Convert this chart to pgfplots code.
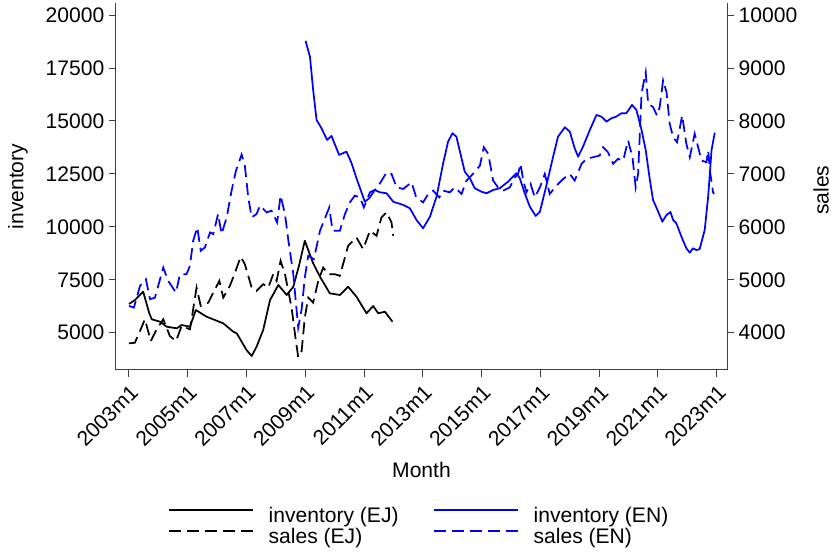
\documentclass[border=0pt]{standalone}
\usepackage{fontspec}
\setmainfont{Liberation Sans}
\usepackage{pgfplots}
\pgfplotsset{compat=1.18}
\usepackage{pgfplotstable}
\definecolor{axisgray}{RGB}{64,64,64}
\definecolor{enblue}{RGB}{0,0,255}

\pgfplotstableread{
m v
0 6356
2.5 6550
5.8 6937
8.3 5916
9.3 5633
12.7 5520
15.4 5283
19.5 5208
21.5 5364
24.9 5283
27.3 6072
31.7 5756
38.5 5444
42.6 5047
44 4972
48 4183
50.1 3899
52.1 4339
54.8 5128
57.6 6545
61 7253
64.4 6781
67.1 7173
69.5 8200
71.8 9346
75.2 8278
78 7645
82 6861
86.1 6781
89.5 7173
92.9 6701
97 5916
99.7 6261
101.8 5916
104.5 5992
107.6 5520
}\invEJ

\pgfplotstableread{
m v
72.1 18780
73.9 18038
75.2 16465
76.6 15048
78.6 14656
80.9 14103
82.7 14292
85.8 13395
88.8 13550
90.9 13003
92.9 12294
96.3 11188
98.1 11349
100.4 11741
102.4 11633
105.2 11585
107.9 11188
112 11033
114.7 10877
117.4 10324
120.1 9932
122.9 10480
125.6 11425
128.3 13003
130.3 14023
132.1 14420
133.7 14259
135.8 13239
137.1 12606
139.2 12294
141.2 11821
143.9 11661
146 11585
148.7 11741
151.4 11821
154.8 12133
158.2 12530
159.6 12294
161.6 11585
163.7 10952
166.1 10513
167.8 10716
170.5 11977
173.2 13314
175.2 14259
178 14703
180 14495
182 13711
183.4 13314
185.4 13787
188.2 14576
190.9 15284
192.9 15204
195 14968
197 15128
199 15204
201.1 15364
203.1 15364
205.4 15757
207.2 15520
209.3 14576
211 13631
212.7 12214
214 11269
216.1 10716
217.8 10244
219.5 10560
221.1 10702
222.2 10324
223.5 10168
225.6 9535
227.6 8987
229 8779
230.3 8987
231.7 8907
233 8940
235.1 9851
236.5 11425
237.9 13631
239.2 14448
}\invEN

\pgfplotstableread{
m v
0 3799
2.4 3811
4.5 4032
6.5 4254
8.9 3843
11.3 4064
14 4254
16.7 3937
19.2 3843
21.5 4127
24.9 4064
27.6 4852
29.3 4506
32.4 4568
34.4 4758
36.9 4979
38.5 4663
41.2 4885
43.3 5136
45.6 5434
47.3 5296
50.1 4852
52.1 4790
54.8 4917
56.9 4852
58.9 5106
60.3 4979
61.9 5358
63.7 5106
66.4 4473
67.8 3970
69.1 3540
70.5 3653
71.8 4284
73.2 4663
75.2 4568
77.3 4979
79.3 5231
81.4 5106
84.1 5106
86.1 5074
89.5 5642
92.9 5799
95.6 5580
98.4 5926
101.1 5831
103.1 6178
105.2 6273
107.2 6083
107.9 5831
}\salEJ

\pgfplotstableread{
m v
0 4506
2 4474
4.5 4885
6.9 5011
8.6 4633
10.6 4663
14 5231
16 4979
19.2 4758
20.8 5106
23.5 5106
24.9 5263
26.2 5737
27.9 5989
29.3 5547
31 5610
33.1 5894
34.4 5864
36.4 6243
37.8 5864
39.9 6178
41.9 6684
43.7 7063
46 7366
47.3 7157
48.7 6557
50.1 6178
52.1 6243
53.5 6400
56.2 6273
58.2 6305
60.5 6083
61.9 6589
63.7 6243
65.1 5737
67.1 5106
69.1 4095
70.5 4443
71.8 5042
73.2 5453
75.5 5390
78 5926
81.8 6368
83.1 5926
86.1 5926
88.2 6243
90.2 6462
92.2 6589
94.3 6557
95.9 6368
98.4 6652
101.1 6716
105.2 7030
107.2 7000
109.3 6746
112 6716
115.4 6841
117.3 6557
120.1 6462
122.2 6621
124.2 6684
126.7 6557
128.3 6684
131 6652
133.1 6746
135.8 6621
137.8 6873
140.5 7000
143.3 7157
144.9 7504
146.7 7379
148.7 6873
150.7 6746
152.8 6684
155.5 6746
157.6 6936
158.9 7000
159.9 7190
161 6873
162.3 6652
164 6810
165.7 6557
167.8 6746
169.8 7000
171.8 6621
174.6 6779
177.3 6905
180 7000
182 6873
184.8 7190
186.8 7284
189.5 7315
192.2 7347
193.6 7504
195.6 7409
197.7 7190
199.7 7284
201.8 7252
203.8 7631
205.6 7315
206.9 6746
207.9 7000
209.3 8515
211 8924
212 8326
214 8262
215.6 8104
216.7 8262
218.1 8767
219.5 8546
220.8 7947
222.2 7693
223.8 7599
225.9 8104
227.6 7568
229 7315
231 7758
232.4 7504
233.8 7252
235.8 7220
236.5 7441
237.4 7000
238.5 6652
238.9 6621
}\salEN

\newcommand{\bigfont}{\fontsize{15.8}{19}\selectfont}

\pgfplotsset{
  base/.style={
    scale only axis, width=458.25pt, height=275.25pt,
    xmin=-5.3, xmax=244.2,
    /pgf/number format/assume math mode=true,
    /pgf/number format/fixed,
    /pgf/number format/1000 sep={},
    scaled ticks=false,
    tick label style={font=\bigfont},
    label style={font=\bigfont},
    tick align=outside, major tick length=5.25pt,
    every tick/.style={axisgray, line width=0.75pt},
    axis line style={axisgray, line width=0.75pt},
    xtick={0,24,...,240},
    clip=false,
  },
  solidline/.style={line width=1.3pt, line join=round},
  dashline/.style={line width=1.3pt, dash pattern=on 9pt off 4.5pt},
}

\begin{document}
\begin{tikzpicture}
\begin{axis}[base,
  axis x line*=bottom, axis y line*=left,
  ymin=3240, ymax=20570,
  ytick={5000,7500,...,20000},
  xticklabels={2003m1,2005m1,2007m1,2009m1,2011m1,2013m1,2015m1,2017m1,2019m1,2021m1,2023m1},
  xticklabel style={rotate=45, anchor=north east},
  xlabel={Month}, ylabel={inventory},
  xlabel style={at={(axis description cs:0.5,-0.2725)}, anchor=center},
  ylabel style={at={(axis description cs:-0.1604,0.5)}, anchor=center},
  legend columns=2,
  legend cell align=left,
  legend style={at={(axis description cs:0.0851,-0.37)}, anchor=north west,
    draw=none, fill=none, font=\bigfont, inner sep=0pt,
    nodes={inner ysep=0pt, inner xsep=0pt, text height=12pt, text depth=3.75pt},
    /tikz/every odd column/.append style={column sep=11pt},
    /tikz/every even column/.append style={column sep=26pt}},
  legend image code/.code={\draw[#1] (0pt,5pt) -- (63pt,5pt);},
]
\addlegendimage{solidline, black}
\addlegendentry{inventory (EJ)}
\addlegendimage{solidline, enblue}
\addlegendentry{inventory (EN)}
\addlegendimage{dashline, black}
\addlegendentry{sales (EJ)}
\addlegendimage{dashline, enblue}
\addlegendentry{sales (EN)}
\addplot[solidline, black] table[x=m, y=v] {\invEJ};
\addplot[solidline, enblue] table[x=m, y=v] {\invEN};
\end{axis}
\begin{axis}[base,
  axis x line=none, axis y line*=right,
  ymin=3296, ymax=10228,
  ytick={4000,5000,...,10000},
  ylabel={sales},
  ylabel style={at={(axis description cs:1.1539,0.49)}, anchor=center},
]
\addplot[dashline, black] table[x=m, y=v] {\salEJ};
\addplot[dashline, enblue] table[x=m, y=v] {\salEN};
\end{axis}
\pgfresetboundingbox
\path[use as bounding box] (-87pt,-136.5pt) rectangle (536.25pt,277.5pt);
\end{tikzpicture}
\end{document}
